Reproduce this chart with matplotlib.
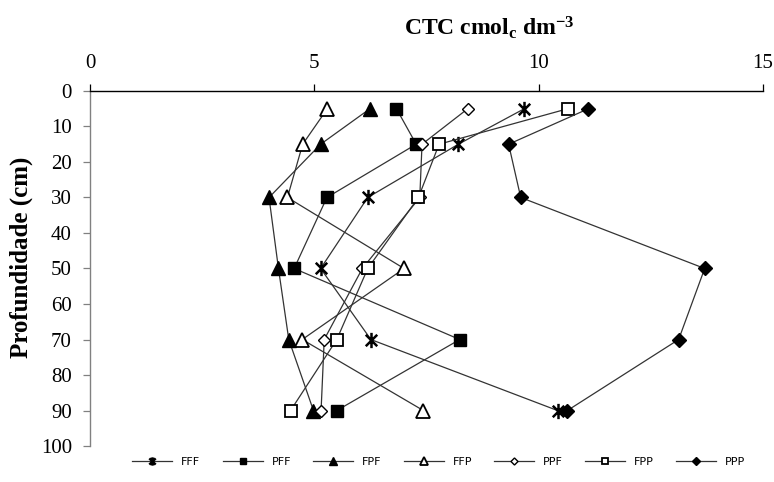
import matplotlib
matplotlib.use("Agg")
import matplotlib.pyplot as plt
from matplotlib.path import Path

depth = [5, 15, 30, 50, 70, 90]
series_names = ["FFF", "PFF", "FPF", "FFP", "PPF", "FPP", "PPP"]
FFF = [9.68, 8.21, 6.19, 5.14, 6.26, 10.42]
PFF = [6.83, 7.27, 5.28, 4.55, 8.24, 5.50]
FPF = [6.24, 5.14, 3.99, 4.20, 4.43, 4.98]
FFP = [5.29, 4.74, 4.40, 7.00, 4.73, 7.43]
PPF = [8.42, 7.40, 7.35, 6.07, 5.22, 5.15]
FPP = [10.65, 7.78, 7.32, 6.19, 5.50, 4.47]
PPP = [11.11, 9.33, 9.60, 13.70, 13.12, 10.64]
values = [FFF, PFF, FPF, FFP, PPF, FPP, PPP]
xticks = [0, 5, 10, 15]
yticks = list(range(0, 101, 10))

plt.rcParams["font.family"] = ["Liberation Serif", "DejaVu Serif"]
plt.rcParams["mathtext.fontset"] = "custom"
plt.rcParams["mathtext.rm"] = "Liberation Serif:bold"
plt.rcParams["mathtext.bf"] = "Liberation Serif:bold"
plt.rcParams["mathtext.it"] = "Liberation Serif:bold"

# Excel-like star marker: X with a vertical bar
star = Path([(-0.6, -0.6), (0.6, 0.6), (-0.6, 0.6), (0.6, -0.6), (0, -0.8), (0, 0.8)],
            [Path.MOVETO, Path.LINETO, Path.MOVETO, Path.LINETO, Path.MOVETO, Path.LINETO])

styles = [
    dict(marker=star, mfc="black", mec="black", ms=11, mew=1.8),
    dict(marker="s", mfc="black", mec="black", ms=8.5),
    dict(marker="^", mfc="black", mec="black", ms=9.5),
    dict(marker="^", mfc="white", mec="black", ms=9.5, mew=1.3),
    dict(marker="D", mfc="white", mec="black", ms=6.5, mew=1.0),
    dict(marker="s", mfc="white", mec="black", ms=8.5, mew=1.3),
    dict(marker="D", mfc="black", mec="black", ms=7.5),
]

fig = plt.figure(figsize=(7.74, 4.82), dpi=100)
ax = fig.add_axes([0.1163, 0.0746, 0.9858 - 0.1163, 0.8113 - 0.0746])

handles = []
for name, vals, st in zip(series_names, values, styles):
    h, = ax.plot(vals, depth, color="#333333", lw=0.9, label=name, **st)
    handles.append(h)

ax.set_xlim(0, 15)
ax.set_ylim(100, 0)
ax.xaxis.tick_top()
ax.set_xticks(xticks)
ax.set_yticks(yticks)
ax.tick_params(axis="x", direction="out", length=5, width=0.9, labelsize=15, pad=8, colors="black")
ax.tick_params(axis="y", direction="out", length=5, width=0.9, labelsize=15, pad=8, color="#808080")
for s in ["right", "bottom"]:
    ax.spines[s].set_visible(False)
ax.spines["top"].set_color("black")
ax.spines["top"].set_linewidth(1.0)
ax.spines["left"].set_color("#808080")
ax.spines["left"].set_linewidth(1.0)

fig.text(0.632, 0.942, r"CTC cmol$_\mathbf{c}$ dm$^\mathbf{-3}$", ha="center", va="center",
         fontsize=17, fontweight="bold")

fig.text(0.028, 0.467, "Profundidade (cm)", rotation=90, ha="center", va="center",
         fontsize=18, fontweight="bold")

leg = fig.legend(handles=handles, labels=series_names, loc="center", bbox_to_anchor=(0.567, 0.0415),
                 ncol=7, frameon=False, prop={"family": "DejaVu Sans", "size": 8},
                 handlelength=3.6, columnspacing=2.0, handletextpad=0.8, markerscale=0.55)

fig.savefig("out.png", dpi=100)
